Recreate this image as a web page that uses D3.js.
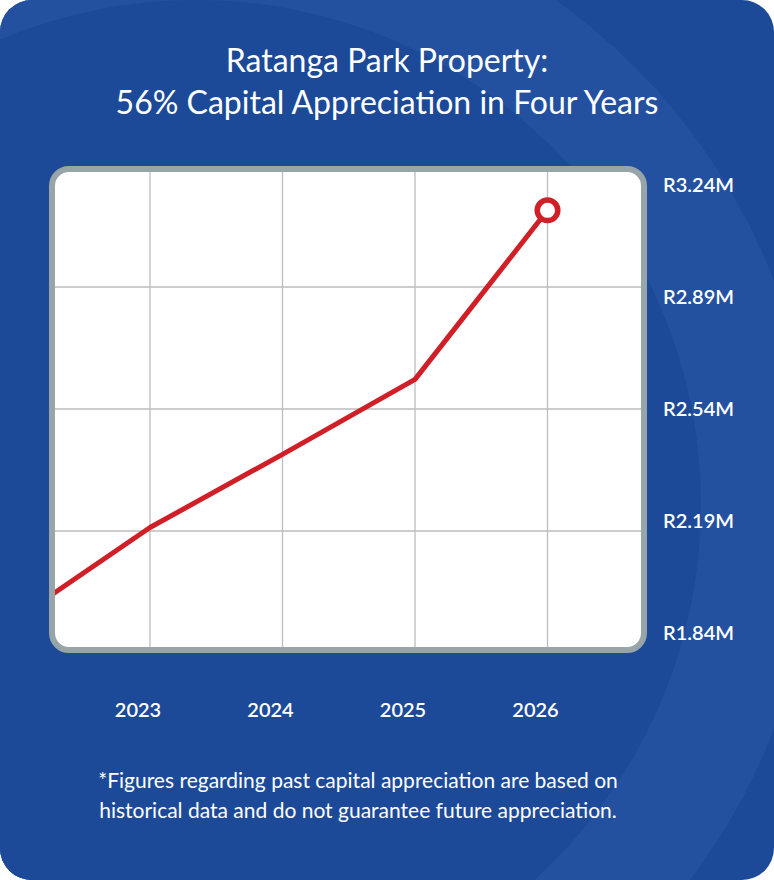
<!DOCTYPE html>
<html lang="en">
<head>
  <meta charset="UTF-8">
  <title>Ratanga Park Property</title>
  <style>
    body {
      margin: 0;
      background: #fff;
      font-family: Lato, "Open Sans", sans-serif;
    }
    #chart svg {
      display: block;
    }
  </style>
  <script src="https://d3js.org/d3.v7.min.js"></script>
</head>
<body>
  <div id="chart"></div>

  <script>
    // data
    const years = [2022, 2023, 2024, 2025, 2026];
    const values = [1.94, 2.20, 2.41, 2.625, 3.11];   // R millions
    const tickYears = [2023, 2024, 2025, 2026];
    const tickValues = [1.84, 2.19, 2.54, 2.89, 3.24];
    const titleLines = ["Ratanga Park Property:", "56% Capital Appreciation in Four Years"];
    const noteLines = [
      "*Figures regarding past capital appreciation are based on",
      "historical data and do not guarantee future appreciation."
    ];

    const W = 774, H = 880;
    const blue = "#1c4a98", blueLight = "#23519f", red = "#d01f27";

    const svg = d3.select("#chart").append("svg")
      .attr("width", W)
      .attr("height", H);

    const defs = svg.append("defs");
    defs.append("clipPath").attr("id", "card-clip")
      .append("rect")
      .attr("width", W).attr("height", H).attr("rx", 32);

    // plot frame (outer edge 49..647 x 166..653)
    const frame = {x: 52, y: 169, w: 592, h: 481, rx: 17};
    defs.append("clipPath").attr("id", "plot-clip")
      .append("rect")
      .attr("x", frame.x + 3).attr("y", frame.y + 3)
      .attr("width", frame.w - 6).attr("height", frame.h - 6)
      .attr("rx", frame.rx - 3);

    // card background with the lighter ring
    const card = svg.append("g").attr("clip-path", "url(#card-clip)");
    card.append("rect").attr("width", W).attr("height", H).attr("fill", blue);
    card.append("circle").attr("cx", 196).attr("cy", 505).attr("r", 620).attr("fill", blueLight);
    card.append("circle").attr("cx", 196).attr("cy", 505).attr("r", 505).attr("fill", blue);

    // title
    svg.append("text")
      .attr("text-anchor", "middle")
      .attr("fill", "#fff")
      .style("font-size", "32px")
      .selectAll("tspan")
      .data(titleLines)
      .join("tspan")
      .attr("x", 387)
      .attr("y", (d, i) => 72 + i * 42)
      .text(d => d);

    // scales
    const x = d3.scaleLinear().domain([2023, 2026]).range([150, 547.5]);
    const y = d3.scaleLinear().domain([1.84, 3.24]).range([653, 165]);
    // value labels sit evenly inside the frame, not on the grid lines
    const yLabel = d3.scaleLinear().domain([1.84, 3.24]).range([632.5, 185.3]);

    // frame
    svg.append("rect")
      .attr("x", frame.x).attr("y", frame.y)
      .attr("width", frame.w).attr("height", frame.h)
      .attr("rx", frame.rx)
      .attr("fill", "#fff");

    const plot = svg.append("g").attr("clip-path", "url(#plot-clip)");

    plot.selectAll("line.vgrid")
      .data(tickYears)
      .join("line")
      .attr("class", "vgrid")
      .attr("x1", d => x(d)).attr("x2", d => x(d))
      .attr("y1", frame.y).attr("y2", frame.y + frame.h)
      .attr("stroke", "#bdbdbd")
      .attr("stroke-width", 1.3);

    plot.selectAll("line.hgrid")
      .data(tickValues)
      .join("line")
      .attr("class", "hgrid")
      .attr("x1", frame.x).attr("x2", frame.x + frame.w)
      .attr("y1", d => y(d)).attr("y2", d => y(d))
      .attr("stroke", "#bdbdbd")
      .attr("stroke-width", 1.3);

    const points = years.map((yr, i) => ({year: yr, value: values[i]}));
    const line = d3.line().x(d => x(d.year)).y(d => y(d.value));

    plot.append("path")
      .datum(points)
      .attr("d", line)
      .attr("fill", "none")
      .attr("stroke", red)
      .attr("stroke-width", 5)
      .attr("stroke-linejoin", "round");

    svg.append("rect")
      .attr("x", frame.x).attr("y", frame.y)
      .attr("width", frame.w).attr("height", frame.h)
      .attr("rx", frame.rx)
      .attr("fill", "none")
      .attr("stroke", "#97a4a8")
      .attr("stroke-width", 6);

    const last = points[points.length - 1];
    svg.append("circle")
      .attr("cx", x(last.year))
      .attr("cy", y(last.value))
      .attr("r", 10.3)
      .attr("fill", "#fff")
      .attr("stroke", red)
      .attr("stroke-width", 5.5);

    // value labels on the right
    svg.selectAll("text.ylab")
      .data(tickValues)
      .join("text")
      .attr("class", "ylab")
      .attr("x", 663)
      .attr("y", d => yLabel(d) + 7)
      .attr("fill", "#fff")
      .style("font-size", "20px")
      .style("font-weight", "600")
      .text(d => "R" + d3.format(".2f")(d) + "M");

    // year labels
    svg.selectAll("text.xlab")
      .data(tickYears)
      .join("text")
      .attr("class", "xlab")
      .attr("x", d => x(d) - 12)
      .attr("y", 717)
      .attr("text-anchor", "middle")
      .attr("fill", "#fff")
      .style("font-size", "20px")
      .style("font-weight", "600")
      .text(d => d);

    // footnote
    svg.append("text")
      .attr("text-anchor", "middle")
      .attr("fill", "#fff")
      .style("font-size", "21px")
      .selectAll("tspan")
      .data(noteLines)
      .join("tspan")
      .attr("x", 358)
      .attr("y", (d, i) => 788 + i * 30)
      .text(d => d);
  </script>
</body>
</html>
